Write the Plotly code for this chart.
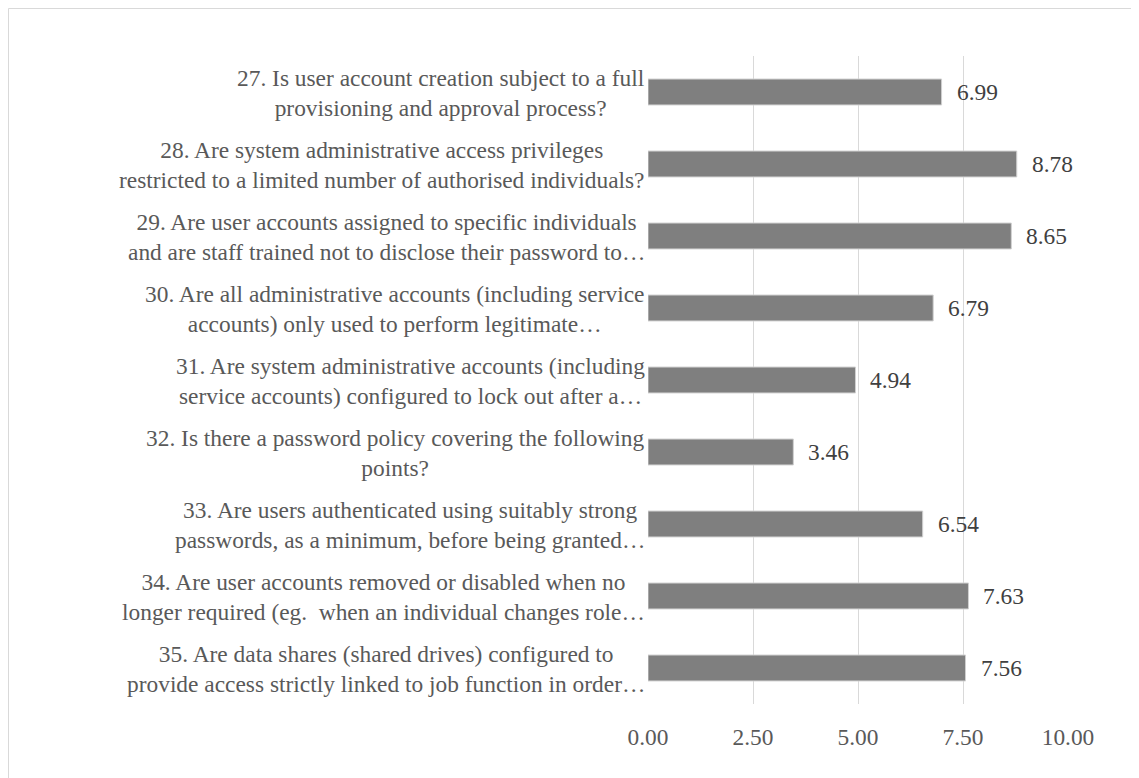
import plotly.graph_objects as go

questions = [
    "27. Is user account creation subject to a full<br>provisioning and approval process?",
    "28. Are system administrative access privileges<br>restricted to a limited number of authorised individuals?",
    "29. Are user accounts assigned to specific individuals<br>and are staff trained not to disclose their password to…",
    "30. Are all administrative accounts (including service<br>accounts) only used to perform legitimate…",
    "31. Are system administrative accounts (including<br>service accounts) configured to lock out after a…",
    "32. Is there a password policy covering the following<br>points?",
    "33. Are users authenticated using suitably strong<br>passwords, as a minimum, before being granted…",
    "34. Are user accounts removed or disabled when no<br>longer required (eg.  when an individual changes role…",
    "35. Are data shares (shared drives) configured to<br>provide access strictly linked to job function in order…",
]
scores = [6.99, 8.78, 8.65, 6.79, 4.94, 3.46, 6.54, 7.63, 7.56]
tick_values = [0, 2.5, 5, 7.5, 10]

FONT = "Liberation Serif"
FS = 23.4
W, H = 1139, 778
ML, MR, MT, MB = 640, 79, 48, 82

fig = go.Figure()
fig.add_trace(go.Bar(
    x=scores, y=questions, orientation="h",
    marker=dict(color="#7f7f7f", line=dict(color="#d0d0d0", width=1)),
    hoverinfo="x+y",
))

annotations = []
for q, v in zip(questions, scores):
    annotations.append(dict(
        x=v, y=q, xref="x", yref="y", text=f"{v:.2f}", showarrow=False,
        xanchor="left", yanchor="middle", xshift=13,
        font=dict(family=FONT, size=FS, color="#404040"),
    ))
    annotations.append(dict(
        x=0, y=q, xref="paper", yref="y", text=q, showarrow=False,
        xanchor="right", yanchor="middle", align="center", xshift=-1, yshift=-1,
        font=dict(family=FONT, size=FS, color="#595959"),
    ))

pw = W - ML - MR
ph = H - MT - MB
def px_to_x(px):
    return (px - ML) / pw
def py_to_y(py):
    return 1 - (py - MT) / ph

fig.update_layout(
    width=W, height=H,
    margin=dict(l=ML, r=MR, t=MT, b=MB),
    paper_bgcolor="white", plot_bgcolor="white",
    showlegend=False,
    bargap=0.64,
    annotations=annotations,
    shapes=[dict(
        type="rect", xref="paper", yref="paper",
        x0=px_to_x(0.5), x1=px_to_x(W - 0.5), y0=py_to_y(H - 0.5), y1=py_to_y(0.5),
        line=dict(color="#d9d9d9", width=1), fillcolor="rgba(0,0,0,0)", layer="below",
    )],
    xaxis=dict(
        range=[0, 10], tickvals=tick_values, tickformat=".2f",
        showgrid=True, gridcolor="#d9d9d9", gridwidth=1,
        zeroline=False, showline=False, ticks="",
        ticklabelstandoff=17,
        tickfont=dict(family=FONT, size=FS, color="#595959"),
    ),
    yaxis=dict(
        autorange="reversed", showticklabels=False, showgrid=False,
        zeroline=False, showline=False, ticks="",
    ),
)

fig.write_html("out.html")
